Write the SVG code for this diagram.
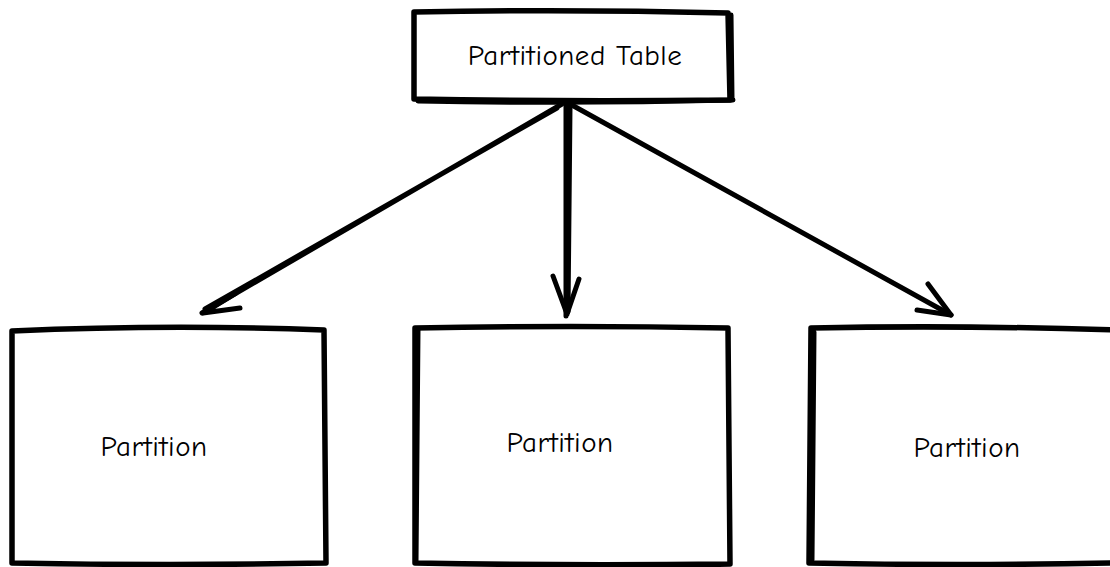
<svg xmlns="http://www.w3.org/2000/svg" width="1110" height="567" viewBox="0 0 1110 567">
<defs>
<style>
.box{fill:#fff;stroke:#000;stroke-width:5.5;stroke-linejoin:round;stroke-linecap:round}
.lbl{font-family:"Comic Neue","Open Sans","Liberation Sans",sans-serif;font-size:29px;fill:#000;text-anchor:middle;letter-spacing:0.5px}
.edge{fill:none;stroke:#000;stroke-width:5;stroke-linecap:round;stroke-linejoin:round}
</style>
</defs>
<rect width="1110" height="567" fill="#fff"/>
<g id="table">
<path class="box" d="M414 12 Q570 9 728 13 L730 100 Q570 102 414 99 Z"/>
<path class="edge" d="M418 101 Q575 104 733 100 M731 15 L732 98" stroke-width="3"/>
<text class="lbl" x="575" y="65" font-size="30">Partitioned Table</text>
</g>
<g id="p1">
<path class="box" d="M12 331 Q170 324 324 330 L326 563 Q170 566 12 563 Z"/>
<text class="lbl" x="154" y="456">Partition</text>
</g>
<g id="p2">
<path class="box" d="M415 328 Q570 325 728 328 L730 564 Q570 566 415 563 Z"/>
<path class="edge" d="M418 330 L416 562" stroke-width="3"/>
<text class="lbl" x="560" y="452">Partition</text>
</g>
<g id="p3">
<path class="box" d="M811 328 Q960 325 1114 330 L1114 563 Q960 566 809 563 Z"/>
<path class="edge" d="M814 332 L812 560" stroke-width="3"/>
<text class="lbl" x="967" y="457">Partition</text>
</g>
<g id="connectors">
<path class="edge" d="M562 104 L202 313 M557 108 L205 309"/>
<path class="edge" d="M205 312 L236 293 M203 313 L240 308"/>
<path class="edge" d="M566 104 L566 316 M570 106 L568 312"/>
<path class="edge" d="M567 314 L553 276 M567 314 L579 279"/>
<path class="edge" d="M570 104 L951 315"/>
<path class="edge" d="M951 315 L928 284 M951 315 L917 310"/>
</g>
</svg>
